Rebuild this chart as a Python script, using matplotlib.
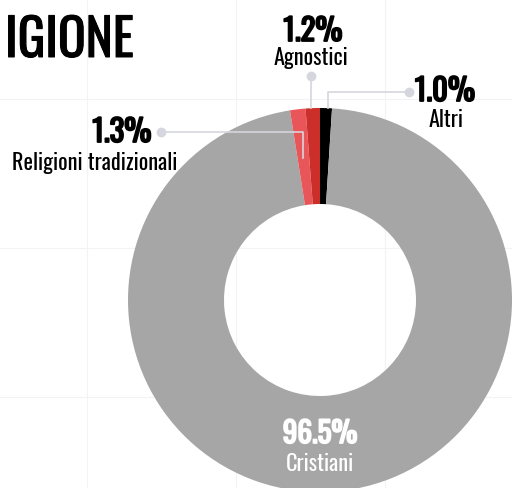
import numpy as np
import matplotlib
matplotlib.use("Agg")
import matplotlib.pyplot as plt
import matplotlib.patheffects as pe
from matplotlib import font_manager

# data (clockwise from the top)
labels = ["Altri", "Cristiani", "Religioni tradizionali", "Agnostici"]
values = [1.0, 96.5, 1.3, 1.2]
colors = ["#000000", "#a6a6a6", "#e8565a", "#cc2f2a"]
pct_text = ["1.0%", "96.5%", "1.3%", "1.2%"]

# pick a narrow font if one is there
names = {f.name for f in font_manager.fontManager.ttflist}
FONT = "DejaVu Sans"
for cand in ["Oswald", "Bebas Neue", "Fjalla One", "Roboto Condensed",
             "Liberation Sans Narrow", "Archivo Narrow"]:
    if cand in names:
        FONT = cand
        break

W, H = 512, 488
fig = plt.figure(figsize=(W / 100, H / 100), dpi=100)
ax = fig.add_axes([0, 0, 1, 1])
ax.set_xlim(0, W)
ax.set_ylim(0, H)
ax.set_aspect("equal")
ax.axis("off")

def py(y):
    # pixel row (from top) to axis y
    return H - y

def bold(c):
    # fake heavier weight (variable font only gives regular)
    return [pe.withStroke(linewidth=1.3, foreground=c)]

# faint background grid
for gx in [87, 236, 385]:
    ax.axvline(gx, color="#f3f3f5", lw=0.8, zorder=0)
for gy in [99, 248, 397]:
    ax.axhline(py(gy), color="#f3f3f5", lw=0.8, zorder=0)

cx, cy, R = 320, py(300), 192
wedges, _ = ax.pie(values, colors=colors, startangle=90, counterclock=False,
                   center=(cx, cy), radius=R,
                   wedgeprops=dict(width=R / 2, linewidth=0))
ax.set_xlim(0, W)
ax.set_ylim(0, H)

def edge(i, r, frac=0.5):
    w = wedges[i]
    th = np.deg2rad(w.theta1 + (w.theta2 - w.theta1) * frac)
    return cx + r * np.cos(th), cy + r * np.sin(th)

lc = "#d6d6de"
LS = 16    # label size
NS = 22    # number size

# title (cut on the left)
ax.text(5, py(57), "IGIONE", fontsize=37, family=FONT, color="black",
        ha="left", va="baseline", path_effects=[pe.withStroke(linewidth=0.7, foreground="black")])

# Agnostici (index 3)
x3, y3 = edge(3, R, 0.6)
ax.plot([x3, x3], [py(76), y3], color=lc, lw=1.2, zorder=3)
ax.plot([x3], [py(76)], "o", ms=6, color=lc, zorder=3)
ax.text(313, py(41), pct_text[3], fontsize=NS, family=FONT,
        ha="center", va="baseline", path_effects=bold("black"))
ax.text(311, py(65), labels[3], fontsize=LS, family=FONT,
        ha="center", va="baseline")

# Altri (index 0)
x0, y0 = edge(0, R, 0.3)
ax.plot([409, x0, x0], [py(92), py(92), y0], color=lc, lw=1.2, zorder=3)
ax.plot([409], [py(92)], "o", ms=6, color=lc, zorder=3)
ax.text(445, py(101), pct_text[0], fontsize=NS, family=FONT,
        ha="center", va="baseline", path_effects=bold("black"))
ax.text(446, py(127), labels[0], fontsize=LS, family=FONT,
        ha="center", va="baseline")

# Religioni tradizionali (index 2)
x2, y2 = edge(2, R * 0.8, 0.4)
ax.plot([161, x2, x2], [py(132), py(132), py(158)], color=lc, lw=1.2, zorder=3)
ax.plot([161], [py(132)], "o", ms=6, color=lc, zorder=3)
ax.text(122, py(142), pct_text[2], fontsize=NS, family=FONT,
        ha="center", va="baseline", path_effects=bold("black"))
ax.text(95, py(170), labels[2], fontsize=LS, family=FONT,
        ha="center", va="baseline")

# Cristiani (index 1), inside the ring
ax.text(cx, py(443), pct_text[1], fontsize=21, family=FONT,
        color="white", ha="center", va="baseline", path_effects=bold("white"))
ax.text(cx, py(471), labels[1], fontsize=LS, family=FONT,
        color="white", ha="center", va="baseline")

fig.savefig("out.png", dpi=100)
